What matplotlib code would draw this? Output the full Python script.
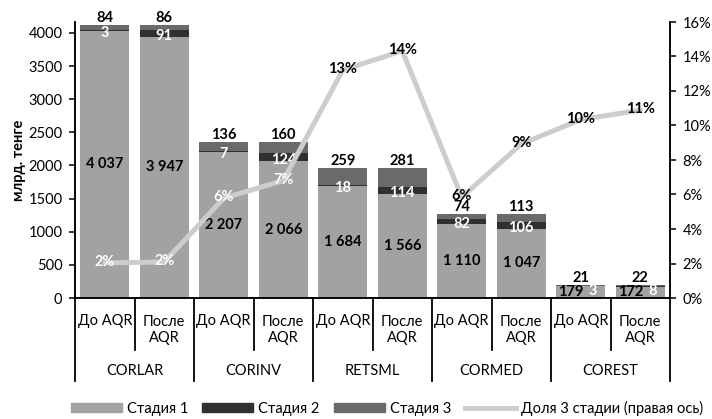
import numpy as np
import matplotlib
matplotlib.use('Agg')
import matplotlib.pyplot as plt
from matplotlib.lines import Line2D
from matplotlib.patches import Patch

plt.rcParams['font.family'] = ['Lato', 'DejaVu Sans']

# ── data ─────────────────────────────────────────────
groups = ['CORLAR', 'CORINV', 'RETSML', 'CORMED', 'COREST']
phases = ['До AQR', 'После\nAQR']
stage1 = [4037, 3947, 2207, 2066, 1684, 1566, 1110, 1047, 179, 172]
stage2 = [3, 91, 7, 124, 18, 114, 82, 106, 3, 8]
stage3 = [84, 86, 136, 160, 259, 281, 74, 113, 21, 22]
left_ticks = [0, 500, 1000, 1500, 2000, 2500, 3000, 3500, 4000]
right_ticks = [0, .02, .04, .06, .08, .10, .12, .14, .16]
legend_labels = ['Стадия 1', 'Стадия 2', 'Стадия 3', 'Доля 3 стадии (правая ось)']

c1, c2, c3, cl = '#a2a2a5', '#303030', '#6a6a6a', '#cdcdcd'
FS = 10.5

s1, s2, s3 = (np.array(v, float) for v in (stage1, stage2, stage3))
total = s1 + s2 + s3
share = s3 / total
x = np.arange(len(s1))

def fmt(v):
    return f'{int(v):,}'.replace(',', ' ')

W, H = 712, 419
fig = plt.figure(figsize=(W / 100, H / 100), dpi=100)
ax = fig.add_axes([75 / W, 1 - 298 / H, 595 / W, 276 / H])
ax2 = ax.twinx()

ax.bar(x, s1, 0.82, color=c1, zorder=2)
ax.bar(x, s2, 0.82, bottom=s1, color=c2, zorder=2)
ax.bar(x, s3, 0.82, bottom=s1 + s2, color=c3, zorder=2)

ax.set_xlim(-0.5, len(x) - 0.5)
ax.set_ylim(0, 4166)
ax2.set_ylim(0, 0.16)
ax.set_yticks(left_ticks)
ax2.set_yticks(right_ticks)
ax2.set_yticklabels([f'{t:.0%}' for t in right_ticks])
ax.set_xticks([])
for a in (ax, ax2):
    a.tick_params(axis='y', labelsize=FS, length=4, width=1.1, pad=5)
    a.spines['top'].set_visible(False)
    for s in ('left', 'right', 'bottom'):
        a.spines[s].set_linewidth(1.1)
ax.set_ylabel('млрд. тенге', fontsize=FS, fontweight='bold', labelpad=2)

# share line on the right axis
ax2.plot(x, share, color=cl, lw=3.6, zorder=3, solid_capstyle='round')

# value labels
small = total < 500
for i in x:
    dx1 = -10 if small[i] else 0
    ax.annotate(fmt(s1[i]), (i, s1[i] / 2), xytext=(dx1, 0),
                textcoords='offset pixels', ha='center', va='center',
                fontsize=FS, fontweight='bold', color='black', zorder=5)
    if small[i]:
        ax.annotate(fmt(s2[i]), (i, s1[i] / 2), xytext=(12, 1),
                    textcoords='offset pixels', ha='center', va='center',
                    fontsize=FS, fontweight='bold', color='white', zorder=5)
    else:
        ax.annotate(fmt(s2[i]), (i, s1[i] + s2[i] / 2), xytext=(0, -2.5),
                    textcoords='offset pixels', ha='center', va='center',
                    fontsize=FS, fontweight='bold', color='white', zorder=5)
    ax.annotate(fmt(s3[i]), (i, total[i]), xytext=(0, 0),
                textcoords='offset pixels', ha='center', va='bottom',
                fontsize=FS, fontweight='bold', color='black', zorder=5)
    inside = share[i] / 0.16 * 4166 < total[i]
    ax2.annotate(f'{share[i]:.0%}', (i, share[i]), xytext=(0, 1),
                 textcoords='offset pixels', ha='center', va='center',
                 fontsize=FS, fontweight='bold',
                 color='white' if inside else 'black', zorder=6)

# two-level category axis
tx = ax.get_xaxis_transform()
px = 1 / 276
for g, name in enumerate(groups):
    ax.plot([2 * g - 0.5] * 2, [0, -83 * px], transform=tx, clip_on=False,
            color='black', lw=1.3)
    ax.plot([2 * g + 0.5] * 2, [0, -52 * px], transform=tx, clip_on=False,
            color='black', lw=1.3)
    ax.text(2 * g + 0.5, -73 * px, name, transform=tx, ha='center',
            va='center', fontsize=FS)
    for k, ph in enumerate(phases):
        yy = -23 * px if '\n' not in ph else -32 * px
        ax.text(2 * g + k, yy, ph, transform=tx, ha='center', va='center',
                fontsize=FS, linespacing=1.25)
ax.plot([len(x) - 0.5] * 2, [0, -83 * px], transform=tx, clip_on=False,
        color='black', lw=1.3)

handles = [Patch(color=c1), Patch(color=c2), Patch(color=c3),
           Line2D([], [], color=cl, lw=3.6)]
fig.legend(handles, legend_labels, loc='center right', ncol=4, frameon=False,
           bbox_to_anchor=(1.0, 1 - 408 / H), fontsize=FS, borderpad=0.1,
           handlelength=3.5, handleheight=0.5, handletextpad=0.35,
           columnspacing=0.95)

fig.savefig('out.png', dpi=100)
